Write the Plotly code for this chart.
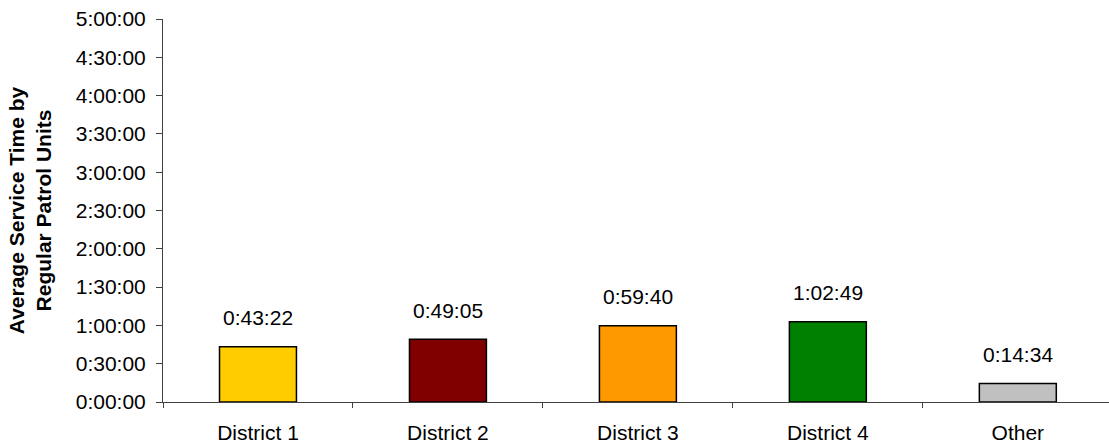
import plotly.graph_objects as go

categories = ["District 1", "District 2", "District 3", "District 4", "Other"]
labels = ["0:43:22", "0:49:05", "0:59:40", "1:02:49", "0:14:34"]
colors = ["#FFCC00", "#800000", "#FF9900", "#008000", "#C0C0C0"]
tick_vals = [0, 1800, 3600, 5400, 7200, 9000, 10800, 12600, 14400, 16200, 18000]
tick_text = ["0:00:00", "0:30:00", "1:00:00", "1:30:00", "2:00:00", "2:30:00",
             "3:00:00", "3:30:00", "4:00:00", "4:30:00", "5:00:00"]


def to_sec(s):
    h, m, sec = (int(p) for p in s.split(":"))
    return h * 3600 + m * 60 + sec


values = [to_sec(s) for s in labels]

FONT = "Liberation Sans, Arial, sans-serif"
FS = 21

fig = go.Figure()
fig.add_trace(go.Bar(
    x=categories, y=values, width=0.405,
    marker=dict(color=colors, line=dict(color="black", width=1.5)),
    hoverinfo="skip",
))
for c, v, t in zip(categories, values, labels):
    fig.add_annotation(x=c, y=v, text=t, showarrow=False, yshift=29,
                       font=dict(size=FS, color="black", family=FONT))

fig.update_layout(
    width=1109, height=447,
    margin=dict(l=163, r=0, t=19, b=45),
    plot_bgcolor="white", paper_bgcolor="white",
    font=dict(family=FONT, size=FS, color="black"),
    showlegend=False,
    xaxis=dict(
        range=[-0.5, 4.48], tickson="boundaries", ticks="outside", ticklen=5,
        tickcolor="#404040", showline=True, linecolor="#404040", linewidth=1,
        showgrid=False, ticklabelstandoff=12,
        tickfont=dict(size=FS, family=FONT),
    ),
    yaxis=dict(
        range=[0, 18000], tickvals=tick_vals, ticktext=tick_text,
        ticks="outside", ticklen=6, tickcolor="#404040",
        showline=True, linecolor="#404040", linewidth=1,
        showgrid=False, zeroline=False, ticklabelstandoff=6,
        tickfont=dict(size=FS, family=FONT),
        title=dict(text="<b>Average Service Time by<br>Regular Patrol Units</b>",
                   font=dict(size=FS, family=FONT), standoff=18),
    ),
)

fig.write_html("out.html",
               config={"displayModeBar": False},
               post_script="document.body.style.margin='0';document.body.style.overflow='hidden';")
